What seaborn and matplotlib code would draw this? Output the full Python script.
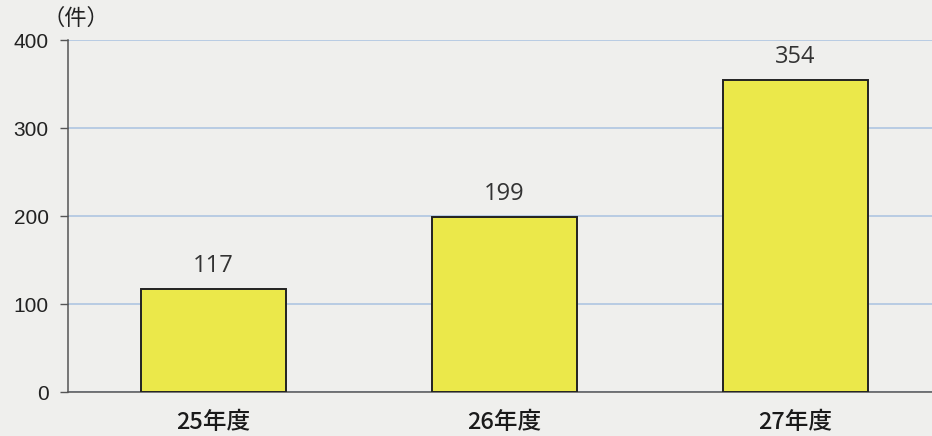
import matplotlib
matplotlib.use("Agg")
import matplotlib.pyplot as plt
import seaborn as sns
import pandas as pd

categories = ["25年度", "26年度", "27年度"]
counts = [117, 199, 354]
y_ticks = [0, 100, 200, 300, 400]
unit_label = "（件）"

sns.set_theme(style="white")
plt.rcParams["font.family"] = ["Noto Sans CJK JP", "DejaVu Sans"]

df = pd.DataFrame({"year": categories, "count": counts})

bg = "#efefed"
fig = plt.figure(figsize=(9.32, 4.36), dpi=100, facecolor=bg)
ax = fig.add_axes([68 / 932, 1 - 392 / 436, 864 / 932, 352 / 436], facecolor=bg)

sns.barplot(data=df, x="year", y="count", ax=ax, color="#ebe84a",
            saturation=1, width=0.5, edgecolor="#222222", linewidth=1.4, zorder=3)

ax.set_xlim(-0.5, -0.5 + 864 / 291)
ax.set_ylim(0, 400)
ax.set_yticks(y_ticks)
ax.set_yticklabels([str(v) for v in y_ticks], fontsize=15, color="#222222",
                   family=["Liberation Sans", "DejaVu Sans"])
ax.grid(axis="y", color="#a9c2e0", linewidth=1.1, zorder=0)
ax.set_axisbelow(True)

# category labels without tick marks; separators between categories
ax.set_xticks(range(len(categories)))
ax.set_xticklabels(categories, fontsize=17, color="#1a1a1a", fontweight="medium")
ax.tick_params(axis="x", length=0, pad=14)
ax.set_xticks([0.5, 1.5], minor=True)
ax.tick_params(axis="x", which="minor", length=6, width=1, color="#555555", direction="out")
ax.tick_params(axis="y", length=6, width=1, color="#555555", direction="out", left=True, pad=8)

for s in ["top", "right"]:
    ax.spines[s].set_visible(False)
for s in ["left", "bottom"]:
    ax.spines[s].set_color("#555555")
    ax.spines[s].set_linewidth(1.1)

ax.set_xlabel("")
ax.set_ylabel("")

for i, v in enumerate(counts):
    ax.annotate(str(v), xy=(i, v), xytext=(0, 8), textcoords="offset points",
                ha="center", va="bottom", fontsize=17, color="#333333",
                family=["Open Sans", "DejaVu Sans"])

fig.text(42 / 932, 1 - 18 / 436, unit_label, fontsize=16, color="#222222",
         ha="left", va="center")

fig.savefig("out.png", dpi=100, facecolor=bg)
